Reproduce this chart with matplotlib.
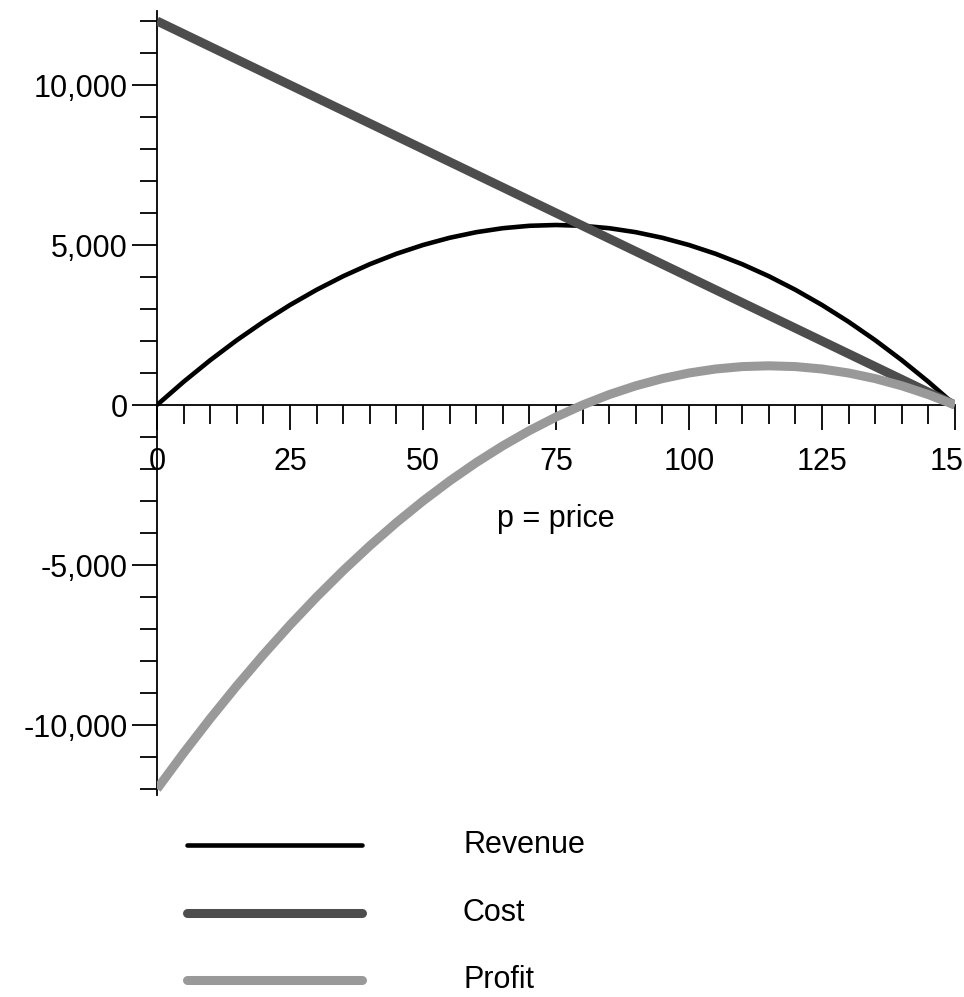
import matplotlib
matplotlib.use("Agg")
import matplotlib.pyplot as plt
from matplotlib.lines import Line2D
from matplotlib.ticker import MultipleLocator

plt.rcParams['font.family'] = ['Liberation Sans', 'DejaVu Sans']

# ---- data ----
price = [0, 5, 10, 15, 20, 25, 30, 35, 40, 45, 50, 55, 60, 65, 70, 75,
         80, 85, 90, 95, 100, 105, 110, 115, 120, 125, 130, 135, 140, 145, 150]
revenue = [0, 725, 1400, 2025, 2600, 3125, 3600, 4025, 4400, 4725, 5000, 5225,
           5400, 5525, 5600, 5625, 5600, 5525, 5400, 5225, 5000, 4725, 4400,
           4025, 3600, 3125, 2600, 2025, 1400, 725, 0]
cost = [12000, 11600, 11200, 10800, 10400, 10000, 9600, 9200, 8800, 8400, 8000,
        7600, 7200, 6800, 6400, 6000, 5600, 5200, 4800, 4400, 4000, 3600, 3200,
        2800, 2400, 2000, 1600, 1200, 800, 400, 0]
profit = [-12000, -10875, -9800, -8775, -7800, -6875, -6000, -5175, -4400, -3675,
          -3000, -2375, -1800, -1275, -800, -375, 0, 325, 600, 825, 1000, 1125,
          1200, 1225, 1200, 1125, 1000, 825, 600, 325, 0]

x_ticks = [0, 25, 50, 75, 100, 125, 150]
x_tick_labels = ["0", "25", "50", "75", "100", "125", "150"]
y_ticks = [-10000, -5000, 0, 5000, 10000]
y_tick_labels = ["-10,000", "-5,000", "0", "5,000", "10,000"]
series_names = ["Revenue", "Cost", "Profit"]
series_colors = ["#000000", "#4d4d4d", "#999999"]
series_widths = [3.3, 6.5, 6.5]

W, H = 964, 997
fig = plt.figure(figsize=(W / 100, H / 100), dpi=100)

# axes placement in pixels
x0_px, x1_px = 157, 955
ymin, ymax = -12200, 12300
zero_px_from_top = 405
px_per_unit = 0.032
top_px = zero_px_from_top - ymax * px_per_unit
bot_px = zero_px_from_top - ymin * px_per_unit
ax = fig.add_axes([x0_px / W, (H - bot_px) / H, (x1_px - x0_px) / W, (bot_px - top_px) / H])
ax.set_xlim(0, 150)
ax.set_ylim(ymin, ymax)

for vals, c, lw in zip([revenue, cost, profit], series_colors, series_widths):
    ax.plot(price, vals, color=c, lw=lw, solid_capstyle='butt', solid_joinstyle='round')

# spines through origin
ax.spines['left'].set_position(('data', 0))
ax.spines['bottom'].set_position(('data', 0))
ax.spines['top'].set_visible(False)
ax.spines['right'].set_visible(False)
for s in ['left', 'bottom']:
    ax.spines[s].set_linewidth(1.3)
    ax.spines[s].set_zorder(0.5)

ax.set_xticks(x_ticks)
ax.set_xticklabels(x_tick_labels)
ax.set_yticks(y_ticks)
ax.set_yticklabels(y_tick_labels)
ax.xaxis.set_minor_locator(MultipleLocator(5))
ax.yaxis.set_minor_locator(MultipleLocator(1000))

ax.tick_params(axis='x', which='major', direction='out', length=18, width=1.3,
               labelsize=22, pad=12)
ax.tick_params(axis='x', which='minor', direction='out', length=14, width=1.3)
ax.tick_params(axis='y', which='major', direction='out', length=18, width=1.3,
               labelsize=22, pad=3)
ax.tick_params(axis='y', which='minor', direction='out', length=12, width=1.3)
for lab in ax.get_xticklabels():
    lab.set_clip_on(False)

ax.text(75, -3560, "p = price", ha='center', va='center', fontsize=22)

# legend drawn below the axes
leg_rows = [845, 913, 980]
for name, c, lw, ypx in zip(series_names, series_colors, series_widths, leg_rows):
    yf = (H - ypx) / H
    fig.add_artist(Line2D([187 / W, 362 / W], [yf, yf], color=c, lw=lw,
                          solid_capstyle='round', transform=fig.transFigure))
    fig.text(463 / W, yf, name, ha='left', va='center', fontsize=22)

fig.savefig("out.png", dpi=100)
